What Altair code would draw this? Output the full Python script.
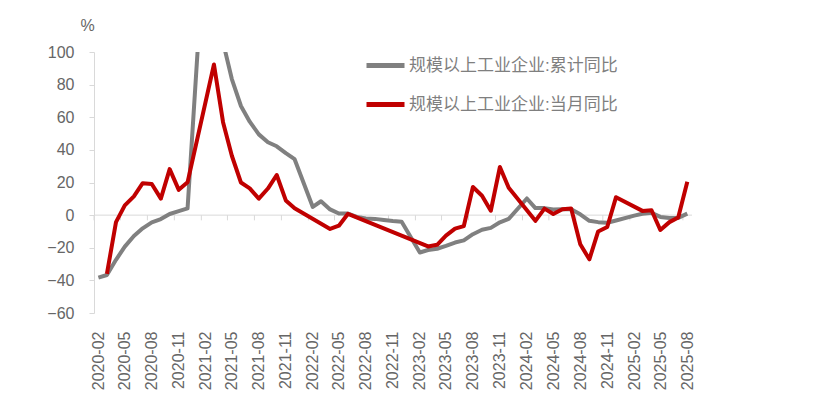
import altair as alt
import pandas as pd

# ---- data ----
cum_months = [
    "2020-02", "2020-03", "2020-04", "2020-05", "2020-06", "2020-07", "2020-08", "2020-09", "2020-10", "2020-11", "2020-12",
    "2021-02", "2021-03", "2021-04", "2021-05", "2021-06", "2021-07", "2021-08", "2021-09", "2021-10", "2021-11", "2021-12",
    "2022-02", "2022-03", "2022-04", "2022-05", "2022-06", "2022-07", "2022-08", "2022-09", "2022-10", "2022-11", "2022-12",
    "2023-02", "2023-03", "2023-04", "2023-05", "2023-06", "2023-07", "2023-08", "2023-09", "2023-10", "2023-11", "2023-12",
    "2024-02", "2024-03", "2024-04", "2024-05", "2024-06", "2024-07", "2024-08", "2024-09", "2024-10", "2024-11", "2024-12",
    "2025-02", "2025-03", "2025-04", "2025-05", "2025-06", "2025-07", "2025-08",
]
cum_values = [
    -38.3, -36.7, -27.4, -19.3, -12.8, -8.1, -4.4, -2.4, 0.7, 2.4, 4.1,
    178.9, 137.3, 106.0, 83.4, 66.9, 57.3, 49.5, 44.7, 42.2, 38.0, 34.3,
    5.0, 8.5, 3.5, 1.0, 1.0, -1.1, -2.1, -2.3, -3.0, -3.6, -4.0,
    -22.9, -21.4, -20.6, -18.8, -16.8, -15.5, -11.7, -9.0, -7.8, -4.4, -2.3,
    10.2, 4.3, 4.3, 3.4, 3.6, 3.6, 0.5, -3.5, -4.3, -4.7, -3.3,
    -0.3, 0.8, 1.4, -1.1, -1.8, -1.7, 0.9,
]

mon_months = [
    "2020-03", "2020-04", "2020-05", "2020-06", "2020-07", "2020-08", "2020-09", "2020-10", "2020-11", "2020-12",
    "2021-03", "2021-04", "2021-05", "2021-06", "2021-07", "2021-08", "2021-09", "2021-10", "2021-11", "2021-12",
    "2022-04", "2022-05", "2022-06",
    "2023-03", "2023-04", "2023-05", "2023-06", "2023-07", "2023-08", "2023-09", "2023-10", "2023-11", "2023-12",
    "2024-03", "2024-04", "2024-05", "2024-06", "2024-07", "2024-08", "2024-09", "2024-10", "2024-11", "2024-12",
    "2025-03", "2025-04", "2025-05", "2025-06", "2025-07", "2025-08",
]
mon_values = [
    -36.0, -4.3, 6.0, 11.5, 19.6, 19.1, 10.1, 28.2, 15.5, 20.1,
    92.3, 57.0, 36.4, 20.0, 16.4, 10.1, 16.3, 24.6, 9.0, 4.2,
    -8.5, -6.5, 0.8,
    -19.2, -18.2, -12.6, -8.3, -6.7, 17.2, 11.9, 2.7, 29.5, 16.8,
    -3.5, 4.0, 0.7, 3.6, 4.1, -17.8, -27.1, -10.0, -7.3, 11.0,
    2.6, 3.0, -9.1, -4.3, -1.5, 20.4,
]

tick_labels = [
    "2020-02", "2020-05", "2020-08", "2020-11", "2021-02", "2021-05", "2021-08", "2021-11",
    "2022-02", "2022-05", "2022-08", "2022-11", "2023-02", "2023-05", "2023-08", "2023-11",
    "2024-02", "2024-05", "2024-08", "2024-11", "2025-02", "2025-05", "2025-08",
]
y_ticks = [-60, -40, -20, 0, 20, 40, 60, 80, 100]

S1 = "规模以上工业企业:累计同比"
S2 = "规模以上工业企业:当月同比"
COLORS = ["#808080", "#C00000"]

FONT = "Liberation Sans, Noto Sans CJK SC, sans-serif"
TXT = "#666666"
GRID = "#d9d9d9"


def mid(m):
    y, mo = m.split("-")
    return alt.DateTime(year=int(y), month=int(mo), date=16, utc=True)


df = pd.DataFrame({
    "date": [m + "-16" for m in cum_months] + [m + "-16" for m in mon_months],
    "value": cum_values + mon_values,
    "series": [S1] * len(cum_values) + [S2] * len(mon_values),
})
tick_df = pd.DataFrame({"date": [m + "-01" for m in tick_labels]})
zero_df = pd.DataFrame({"v": [0]})

x_scale = alt.Scale(
    type="utc",
    domain=[alt.DateTime(year=2020, month=2, date=1, utc=True),
            alt.DateTime(year=2025, month=9, date=1, utc=True)],
)
y_scale = alt.Scale(domain=[-60, 100], nice=False, zero=False)

x_axis = alt.Axis(
    values=[mid(m) for m in tick_labels],
    labelExpr="utcFormat(datum.value, '%Y-%m')",
    labelAngle=-90, labelFontSize=16, labelColor=TXT, labelFont=FONT,
    labelPadding=18, domain=False, ticks=False, grid=False, title=None,
    labelOverlap=False, labelBound=False, labelFlush=False,
)
y_axis = alt.Axis(
    values=y_ticks, tickCount=9, labelFontSize=16, labelColor=TXT, labelFont=FONT,
    labelPadding=15, domainColor=GRID, tickColor=GRID, tickSize=5,
    grid=False, title="%", titleAngle=0, titleX=-7, titleY=-27,
    titleAlign="center", titleBaseline="middle", titleFontSize=16,
    titleFontWeight="normal", titleColor=TXT, titleFont=FONT,
    labelOverlap=False, labelBound=False, labelFlush=False,
    labelExpr="datum.label",
)

zero = alt.Chart(zero_df).mark_rule(color=GRID, strokeWidth=1).encode(
    y=alt.datum(0)
)
ticks = alt.Chart(tick_df).mark_rule(color=GRID, strokeWidth=1).encode(
    x=alt.X("date:T", scale=x_scale, axis=x_axis),
    y=alt.datum(0),
    y2=alt.datum(-3.2),
)
lines = alt.Chart(df).mark_line(strokeWidth=4, clip=True, strokeJoin="round").encode(
    x=alt.X("date:T", scale=x_scale, axis=x_axis),
    y=alt.Y("value:Q", scale=y_scale, axis=y_axis),
    color=alt.Color(
        "series:N",
        scale=alt.Scale(domain=[S1, S2], range=COLORS),
        legend=alt.Legend(
            title=None, orient="none", legendX=270, legendY=-8,
            symbolType="stroke", symbolSize=1444, symbolStrokeWidth=5,
            labelFontSize=17, labelColor="#7f7f7f", labelFont=FONT,
            labelOffset=2, labelLimit=400, rowPadding=7, padding=0,
            direction="vertical",
        ),
    ),
    order=alt.Order("date:T"),
)

chart = alt.layer(zero, ticks, lines).properties(
    width=598, height=261,
    autosize=alt.AutoSizeParams(type="none"),
    padding={"left": 86, "top": 44, "right": 130, "bottom": 78},
    background="white",
).configure_view(stroke=None).configure_axis(
    labelOverlap=False, labelBound=False
)

chart.save("out.html", embed_options={"renderer": "svg", "actions": False})
